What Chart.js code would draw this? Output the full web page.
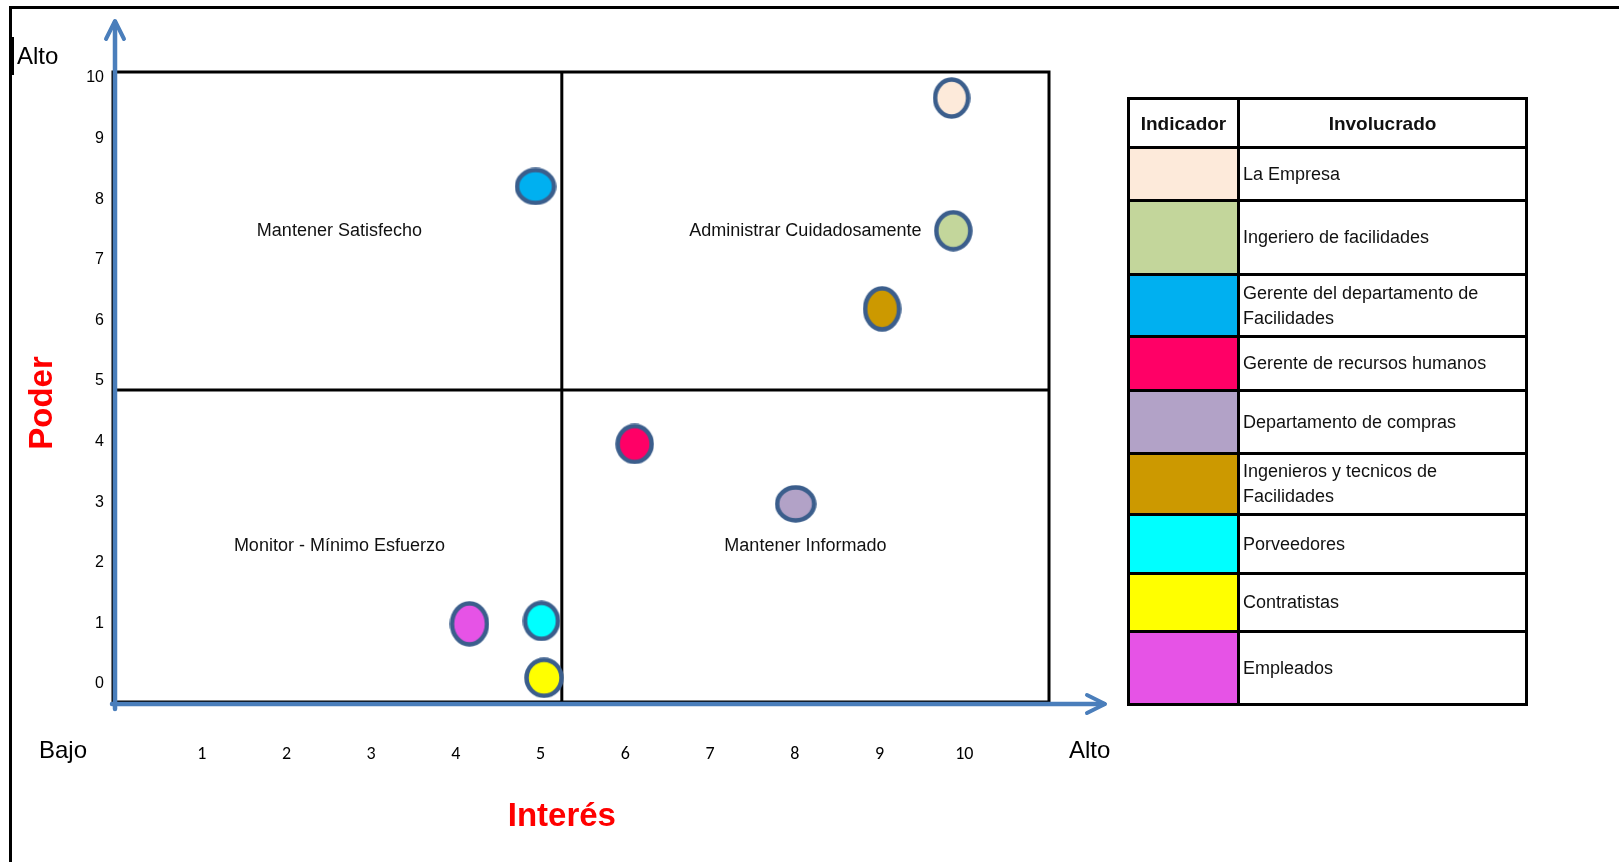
<!DOCTYPE html>
<html lang="es">
<head>
<meta charset="utf-8">
<title>Matriz Poder / Interés</title>
<script src="https://cdn.jsdelivr.net/npm/chart.js@4.4.1/dist/chart.umd.min.js"></script>
<style>
    html, body { margin: 0; padding: 0; background: #fff; }
    body { width: 1619px; height: 862px; position: relative; overflow: hidden;
           font-family: 'Liberation Sans', Arial, sans-serif; }
    #marco { position: absolute; left: 9px; top: 6px; width: 1700px; height: 900px;
             border-left: 3px solid #000; border-top: 3px solid #000; }
    #barrita { position: absolute; left: 11px; top: 37px; width: 3px; height: 38px; background: #000; }
    #grafico { position: absolute; left: 0; top: 0; }
    #leyenda { position: absolute; left: 1127px; top: 97px; border-collapse: collapse;
               table-layout: fixed; width: 398px; }
    #leyenda th, #leyenda td { border: 3px solid #000; padding: 0 0 0 3px; color: #111;
                               font-size: 18px; line-height: 25px; white-space: pre-line; }
    #leyenda th { font-weight: bold; text-align: center; padding: 0; font-size: 19px; }
</style>
</head>
<body>
<div id="marco"></div>
<div id="barrita"></div>
<canvas id="grafico" width="1619" height="862"></canvas>
<table id="leyenda"></table>
<script>
const involucrados = [
    'La Empresa',
    'Ingeriero de facilidades',
    'Gerente del departamento de\nFacilidades',
    'Gerente de recursos humanos',
    'Departamento de compras',
    'Ingenieros y tecnicos de\nFacilidades',
    'Porveedores',
    'Contratistas',
    'Empleados',
];
const interes = [9.85, 9.87, 4.94, 6.11, 8.01, 9.03, 5.01, 5.04, 4.16];
const poder   = [9.67, 7.48, 8.21, 3.96, 2.97, 6.19, 1.04, 0.10, 0.99];
const colores = ['#FDEADA', '#C3D69B', '#00B0F0', '#FF0066', '#B2A2C7', '#CC9900', '#00FFFF', '#FFFF00', '#E653E6'];

const xTicks = [1, 2, 3, 4, 5, 6, 7, 8, 9, 10];
const yTicks = [0, 1, 2, 3, 4, 5, 6, 7, 8, 9, 10];
const cuadrantes = ['Mantener Satisfecho', 'Administrar Cuidadosamente', 'Monitor - Mínimo Esfuerzo', 'Mantener Informado'];
const corteInteres = 5.25;
const cortePoder = 4.85;

// estilo: tamaño de cada elipse (ancho, alto) y alto de filas de la leyenda
const anchoMarca = [38, 39, 42, 39, 42, 39, 38, 40, 40];
const altoMarca  = [42, 42, 38, 41, 38, 46, 41, 41, 46];
const altoFila = [49, 53, 74, 62, 54, 63, 61, 59, 58, 73];

const AZUL = '#4A7EBB';
const CONTORNO = '#3B5E8C';

function tieneFuente(nombre) {
    const c = document.createElement('canvas').getContext('2d');
    c.font = '20px monospace';
    const a = c.measureText('Mantener Satisfecho').width;
    c.font = '20px "' + nombre + '", monospace';
    return c.measureText('Mantener Satisfecho').width !== a;
}
const ESTRECHA = tieneFuente('Liberation Sans Narrow');
const fuenteCuadro = ESTRECHA ? '22px "Liberation Sans Narrow"' : '18px "Liberation Sans"';

function elipse(relleno, w, h) {
    const c = document.createElement('canvas');
    c.width = w; c.height = h;
    const g = c.getContext('2d');
    g.beginPath();
    g.ellipse(w / 2, h / 2, w / 2 - 2.5, h / 2 - 2.5, 0, 0, Math.PI * 2);
    g.fillStyle = relleno;
    g.fill();
    g.lineWidth = 4.5;
    g.strokeStyle = CONTORNO;
    g.stroke();
    return c;
}

function flecha(ctx, x, y, dx, dy, ancho) {
    // chevron abierto con la punta en (x, y); (dx, dy) apunta hacia atrás
    const nx = -dy / Math.hypot(dx, dy) * ancho, ny = dx / Math.hypot(dx, dy) * ancho;
    ctx.beginPath();
    ctx.moveTo(x + dx + nx, y + dy + ny);
    ctx.lineTo(x, y);
    ctx.lineTo(x + dx - nx, y + dy - ny);
    ctx.stroke();
}

const matriz = {
    id: 'matriz',
    beforeDatasetsDraw(chart) {
        const { ctx, chartArea: a, scales: { x, y } } = chart;
        const sx = x.getPixelForValue(corteInteres);
        const sy = y.getPixelForValue(cortePoder);
        ctx.save();
        ctx.strokeStyle = '#000';
        ctx.lineWidth = 3;
        ctx.strokeRect(a.left - 4, a.top, a.right - a.left + 4, a.bottom - a.top);
        ctx.beginPath();
        ctx.moveTo(sx, a.top); ctx.lineTo(sx, a.bottom);
        ctx.moveTo(a.left, sy); ctx.lineTo(a.right, sy);
        ctx.stroke();

        ctx.fillStyle = '#111';
        ctx.font = fuenteCuadro;
        ctx.textAlign = 'center';
        ctx.textBaseline = 'middle';
        const cx = [(a.left + sx) / 2, (sx + a.right) / 2];
        const cy = [(a.top + sy) / 2, (sy + a.bottom) / 2];
        ctx.fillText(cuadrantes[0], cx[0], cy[0]);
        ctx.fillText(cuadrantes[1], cx[1], cy[0]);
        ctx.fillText(cuadrantes[2], cx[0], cy[1]);
        ctx.fillText(cuadrantes[3], cx[1], cy[1]);

        // ejes azules con flecha
        ctx.strokeStyle = AZUL;
        ctx.lineWidth = 4.5;
        ctx.lineCap = 'round';
        ctx.lineJoin = 'round';
        const ax = a.left - 2, ay = a.bottom + 2;
        ctx.beginPath();
        ctx.moveTo(ax, a.bottom + 7); ctx.lineTo(ax, 22);
        ctx.moveTo(ax - 3, ay); ctx.lineTo(1104, ay);
        ctx.stroke();
        ctx.lineWidth = 4;
        flecha(ctx, ax, 21, 0, 18, 9);
        flecha(ctx, 1105, ay, -18, 0, 9);

        // textos de los extremos
        ctx.fillStyle = '#000';
        ctx.font = '24px "Liberation Sans"';
        ctx.textAlign = 'left';
        ctx.fillText('Alto', 17, 57);
        ctx.fillText('Bajo', 39, 751);
        ctx.fillText('Alto', 1069, 751);

        ctx.fillStyle = '#FF0000';
        ctx.font = 'bold 33px "Liberation Sans"';
        ctx.textAlign = 'center';
        ctx.fillText('Interés', sx, 817);
        ctx.translate(43, 403);
        ctx.rotate(-Math.PI / 2);
        ctx.fillText('Poder', 0, 0);
        ctx.restore();
    },
};

new Chart(document.getElementById('grafico'), {
    type: 'scatter',
    data: {
        datasets: involucrados.map((nombre, i) => ({
            label: nombre,
            data: [{ x: interes[i], y: poder[i] }],
            pointStyle: elipse(colores[i], anchoMarca[i], altoMarca[i]),
            backgroundColor: colores[i],
            borderColor: CONTORNO,
            clip: false,
        })),
    },
    options: {
        responsive: false,
        animation: false,
        layout: { autoPadding: false, padding: { left: 0, top: 72, right: 570, bottom: 0 } },
        plugins: {
            legend: { display: false },
            tooltip: { enabled: false },
        },
        scales: {
            x: {
                type: 'linear',
                min: 0,
                max: 11,
                grid: { display: false },
                border: { display: false },
                afterBuildTicks: s => { s.ticks = xTicks.map(v => ({ value: v })); },
                afterFit: s => { s.height = 160; },
                ticks: {
                    color: '#000',
                    padding: 34,
                    autoSkip: false,
                    maxRotation: 0,
                    font: { family: "Carlito, Lato, sans-serif", size: 18 },
                },
            },
            y: {
                type: 'linear',
                min: -0.3,
                max: 10.1,
                grid: { display: false },
                border: { display: false },
                afterBuildTicks: s => { s.ticks = yTicks.map(v => ({ value: v })); },
                afterFit: s => { s.width = 117; },
                ticks: {
                    color: '#000',
                    padding: 5,
                    autoSkip: false,
                    font: { family: "'Liberation Sans Narrow', 'Liberation Sans', sans-serif", size: ESTRECHA ? 19 : 16 },
                },
            },
        },
    },
    plugins: [matriz],
});

// tabla de indicadores
const tabla = document.getElementById('leyenda');
let html = '<colgroup><col style="width:110px"><col style="width:288px"></colgroup>';
html += '<tr style="height:' + altoFila[0] + 'px"><th>Indicador</th><th>Involucrado</th></tr>';
involucrados.forEach((nombre, i) => {
    html += '<tr style="height:' + altoFila[i + 1] + 'px"><td style="background:' + colores[i] + '"></td><td>' + nombre + '</td></tr>';
});
tabla.innerHTML = html;
</script>
</body>
</html>
